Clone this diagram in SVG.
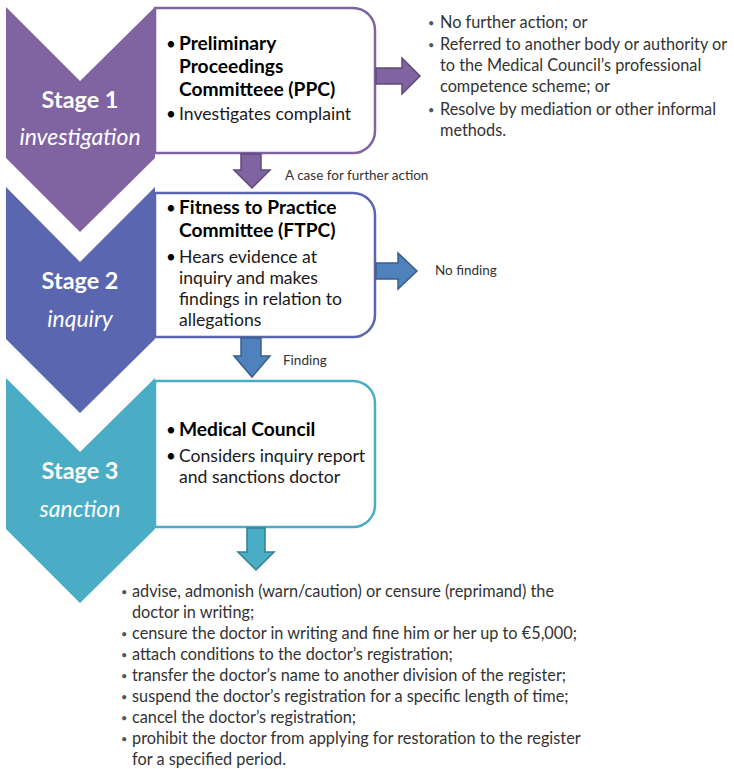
<svg xmlns="http://www.w3.org/2000/svg" width="734" height="769" viewBox="0 0 734 769">
  <style>
    text { font-family: Lato, "Liberation Sans", sans-serif; }
    .stage { font-size: 23.4px; font-weight: bold; fill: #ffffff; text-anchor: middle; }
    .sub { font-size: 23px; font-style: italic; fill: #ffffff; text-anchor: middle; }
    .head { font-size: 19.2px; font-weight: bold; fill: #000000; }
    .body { font-size: 17.6px; fill: #1a1a1a; }
    .bul { font-size: 17px; fill: #000000; }
    .list { font-size: 16.3px; fill: #333333; }
    .dot { font-size: 11px; fill: #555555; }
    .lbl { font-size: 13.5px; fill: #333333; }
    .box { fill: #ffffff; stroke-width: 2.5; }
  </style>

  <!-- Stage 1 -->
  <g id="stage1">
    <polygon points="6,7 80,81 155,7 155,158 80,232 6,158" fill="#8064a2"/>
    <text class="stage" x="80" y="108">Stage 1</text>
    <text class="sub" x="80" y="145">investigation</text>
  </g>
  <g id="ppc">
    <path class="box" stroke="#8064a2" d="M155,8 H353 A22,22 0 0 1 375,30 V131 A22,22 0 0 1 353,153 H155 Z"/>
    <text class="bul" x="166" y="50">•</text>
    <text class="head" x="179" y="50">Preliminary</text>
    <text class="head" x="179" y="73">Proceedings</text>
    <text class="head" x="179" y="96">Committeee (PPC)</text>
    <text class="bul" x="166" y="120">•</text>
    <text class="body" x="179" y="120">Investigates complaint</text>
  </g>
  <g id="ppc-outcomes">
    <text class="dot" x="428" y="27">•</text>
    <text class="list" x="440" y="28">No further action; or</text>
    <text class="dot" x="428" y="49">•</text>
    <text class="list" x="440" y="50">Referred to another body or authority or</text>
    <text class="list" x="440" y="71">to the Medical Council’s professional</text>
    <text class="list" x="440" y="92">competence scheme; or</text>
    <text class="dot" x="428" y="114">•</text>
    <text class="list" x="440" y="115">Resolve by mediation or other informal</text>
    <text class="list" x="440" y="136">methods.</text>
  </g>

  <!-- Stage 2 -->
  <g id="stage2">
    <polygon points="6,187 80,262 155,187 155,339 80,413 6,339" fill="#5a66b0"/>
    <text class="stage" x="80" y="289">Stage 2</text>
    <text class="sub" x="80" y="327">inquiry</text>
  </g>
  <g id="ftpc">
    <path class="box" stroke="#5a66b0" d="M155,193 H353 A22,22 0 0 1 375,215 V315 A22,22 0 0 1 353,337 H155 Z"/>
    <text class="bul" x="166" y="214">•</text>
    <text class="head" x="179" y="214">Fitness to Practice</text>
    <text class="head" x="179" y="237">Committee (FTPC)</text>
    <text class="bul" x="166" y="263">•</text>
    <text class="body" x="179" y="263">Hears evidence at</text>
    <text class="body" x="179" y="284">inquiry and makes</text>
    <text class="body" x="179" y="305">findings in relation to</text>
    <text class="body" x="179" y="326">allegations</text>
  </g>

  <!-- Stage 3 -->
  <g id="stage3">
    <polygon points="6,378 80,452 155,378 155,529 80,603 6,529" fill="#4bacc6"/>
    <text class="stage" x="80" y="479">Stage 3</text>
    <text class="sub" x="80" y="517">sanction</text>
  </g>
  <g id="council">
    <path class="box" stroke="#4bacc6" d="M155,381 H353 A22,22 0 0 1 375,403 V505 A22,22 0 0 1 353,527 H155 Z"/>
    <text class="bul" x="166" y="436">•</text>
    <text class="head" x="179" y="436">Medical Council</text>
    <text class="bul" x="166" y="462">•</text>
    <text class="body" x="179" y="462">Considers inquiry report</text>
    <text class="body" x="179" y="483">and sanctions doctor</text>
  </g>
  <g id="sanctions">
    <text class="dot" x="121" y="596">•</text>
    <text class="list" x="132" y="597">advise, admonish (warn/caution) or censure (reprimand) the</text>
    <text class="list" x="132" y="618">doctor in writing;</text>
    <text class="dot" x="121" y="638">•</text>
    <text class="list" x="132" y="639">censure the doctor in writing and fine him or her up to €5,000;</text>
    <text class="dot" x="121" y="659">•</text>
    <text class="list" x="132" y="660">attach conditions to the doctor’s registration;</text>
    <text class="dot" x="121" y="680">•</text>
    <text class="list" x="132" y="681">transfer the doctor’s name to another division of the register;</text>
    <text class="dot" x="121" y="701">•</text>
    <text class="list" x="132" y="702">suspend the doctor’s registration for a specific length of time;</text>
    <text class="dot" x="121" y="722">•</text>
    <text class="list" x="132" y="723">cancel the doctor’s registration;</text>
    <text class="dot" x="121" y="743">•</text>
    <text class="list" x="132" y="744">prohibit the doctor from applying for restoration to the register</text>
    <text class="list" x="132" y="765">for a specified period.</text>
  </g>

  <!-- Connectors -->
  <g id="connectors" stroke-width="1.5" stroke-linejoin="miter">
    <polygon points="376,68 402,68 402,58 420,76 402,94 402,84 376,84" fill="#8064a2" stroke="#5e4a7a"/>
    <polygon points="241,154 261,154 261,170 270,170 252,188 234,170 241,170" fill="#8064a2" stroke="#5e4a7a"/>
    <polygon points="376,263 398,263 398,253 417,271 398,289 398,279 376,279" fill="#4f81bd" stroke="#3a5f8c"/>
    <polygon points="241,338 261,338 261,356 270,356 252,377 234,356 241,356" fill="#4f81bd" stroke="#3a5f8c"/>
    <polygon points="247,528 265,528 265,552 274,552 256,570 238,552 247,552" fill="#4bacc6" stroke="#357d91"/>
    <text class="lbl" x="285" y="180" stroke="none">A case for further action</text>
    <text class="lbl" x="435" y="275" stroke="none">No finding</text>
    <text class="lbl" x="283" y="365" stroke="none">Finding</text>
  </g>
</svg>
